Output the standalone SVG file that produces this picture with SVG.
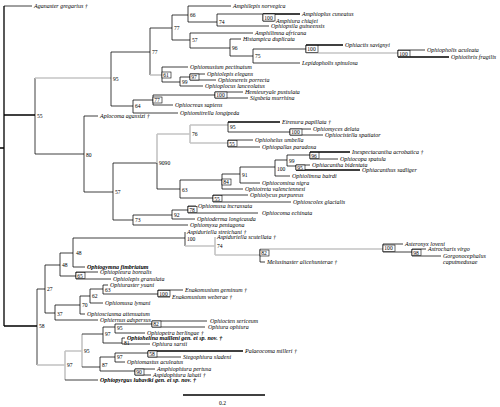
<svg xmlns="http://www.w3.org/2000/svg" width="500" height="407" viewBox="0 0 500 407">
<style>
.k{stroke:#000;stroke-width:1.3;fill:none}
.t{stroke:#000;stroke-width:0.75;fill:none}
.g{stroke:#c4c4c4;stroke-width:1.6;fill:none}
.sp{font-family:"Liberation Serif",serif;font-style:italic;font-size:6px;fill:#000}
.bd{font-weight:bold}
.n{font-family:"Liberation Serif",serif;font-size:5.6px;fill:#000}
.bx{fill:#fff;stroke:#000;stroke-width:0.6}
</style>
<rect width="500" height="407" fill="#fff"/>
<g id="connectors">
<path class="k" d="M0,148H4 M4,6V326 M4,115H35 M4,326H37"/>
<path class="t" d="M4,6H32"/>
<path class="t" d="M35,78V154 M35,154H84"/>
<path class="g" d="M35,78H111"/>
<path class="t" d="M111,52V106 M111,52H150 M111,106H133"/>
<path class="t" d="M150,28V75 M150,28H172"/>
<path class="g" d="M150,75H162"/>
<path class="t" d="M172,15V40 M172,15H188 M172,40H190"/>
<path class="t" d="M188,6V22 M188,6H231 M188,22H217"/>
<path class="t" d="M217,14V26 M217,14H263 M217,26H269"/>
<path class="t" d="M263,14V21 M263,21H274"/><path class="k" d="M263,14H300"/>
<path class="t" d="M190,33V48 M190,33H253 M190,48H230"/>
<path class="t" d="M230,39V56 M230,39H241 M230,56H253"/>
<path class="t" d="M253,49V63 M253,49H306 M253,63H300"/>
<path class="t" d="M306,45V53"/><path class="k" d="M306,45H343"/><path class="g" d="M306,53H398"/>
<path class="t" d="M398,50V57 M398,50H425"/><path class="k" d="M398,57H449"/>
<path class="t" d="M162,67V82 M162,67H188 M162,82H180"/>
<path class="t" d="M180,77V86 M180,77H190 M180,86H203"/>
<path class="t" d="M190,74V80 M190,74H205 M190,80H216"/>
<path class="t" d="M133,100V113 M133,100H153 M133,113H178"/>
<path class="t" d="M153,95V105 M153,95H215 M153,105H173"/>
<path class="t" d="M215,92V98 M215,92H243 M215,98H248"/>
<path class="t" d="M84,116V192 M84,116H98 M84,192H113"/>
<path class="t" d="M113,163V220 M113,163H157 M113,220H133"/>
<path class="g" d="M157,134V163 M157,134H190"/><path class="t" d="M157,163V189 M157,189H180"/>
<path class="g" d="M190,125V143 M190,125H228 M190,143H228"/>
<path class="t" d="M228,122V132 M228,132H290"/><path class="k" d="M228,122H280"/>
<path class="t" d="M290,129V135 M290,129H311 M290,135H323"/>
<path class="t" d="M228,140V147 M228,140H253 M228,147H260"/>
<path class="t" d="M180,180V198 M180,180H222 M180,198H213"/>
<path class="t" d="M222,174V189 M222,174H240 M222,189H243"/>
<path class="t" d="M240,167V183 M240,167H275 M240,183H260"/>
<path class="t" d="M275,160V176 M275,160H287 M275,176H290"/>
<path class="t" d="M287,155V166 M287,155H310 M287,166H296"/>
<path class="t" d="M310,152V159 M310,159H338"/><path class="k" d="M310,152H350"/>
<path class="t" d="M296,165V170 M296,165H310"/><path class="k" d="M296,170H360"/>
<path class="t" d="M213,195V202 M213,195H248 M213,202H291"/>
<path class="t" d="M133,215V225 M133,215H172 M133,225H188"/>
<path class="t" d="M172,210V219 M172,210H188 M172,219H195"/>
<path class="t" d="M188,206V213 M188,206H196 M188,213H258"/>
<path class="t" d="M37,289V365 M37,289H45"/><path class="g" d="M37,365H65"/>
<path class="t" d="M45,265V313 M45,265H60 M45,313H55"/>
<path class="t" d="M60,253V276 M60,253H73 M60,276H76"/>
<path class="t" d="M73,238V267 M73,238H185 M73,267H85"/>
<path class="t" d="M185,232V246"/><path class="g" d="M185,246H215 M215,237V255 M215,255H260 M260,249H383"/>
<path class="t" d="M260,249V262 M260,262H265"/>
<path class="t" d="M383,244V252 M383,244H403 M383,252H412"/>
<path class="t" d="M412,249V256 M412,249H426 M412,256H441"/>
<path class="t" d="M76,272V279 M76,272H98 M76,279H111"/>
<path class="t" d="M55,305V320 M55,305H80 M55,320H98"/>
<path class="t" d="M80,296V314 M80,296H90 M80,314H85"/>
<path class="t" d="M90,289V303 M90,289H103 M90,303H103"/>
<path class="t" d="M103,285V294 M103,285H108 M103,294H158"/>
<path class="t" d="M158,290V297 M158,290H183 M158,297H170"/>
<path class="g" d="M65,351V380 M65,351H82 M82,334V367"/><path class="t" d="M65,380H98"/>
<path class="t" d="M82,334H103 M82,367H100"/>
<path class="t" d="M103,327V343 M103,327H115 M103,343H122"/>
<path class="t" d="M115,324V333 M115,324H152 M115,333H145"/>
<path class="t" d="M152,321V327 M152,321H207 M152,327H205"/>
<path class="t" d="M122,338V344 M122,338H125 M122,344H150"/>
<path class="t" d="M100,357V371 M100,357H115 M100,371H135"/>
<path class="t" d="M115,353V362 M115,353H148 M115,362H125"/>
<path class="t" d="M148,351V357 M148,357H181"/><path class="k" d="M148,351H243"/>
<path class="t" d="M135,369V375 M135,369H155 M135,375H151"/>
<path class="k" d="M183,395H265"/>
</g>
<g id="support">
<text class="n" x="37" y="118">55</text>
<text class="n" x="39" y="328">58</text>
<text class="n" x="113" y="81">95</text>
<text class="n" x="152" y="54">77</text>
<text class="n" x="174" y="30">77</text>
<text class="n" x="190" y="17">66</text>
<text class="n" x="219" y="24">74</text>
<g><rect class="bx" x="263" y="14" width="12" height="7"/><text class="n" x="264.3" y="19.6">100</text></g>
<text class="n" x="192" y="42">57</text>
<text class="n" x="232" y="50">96</text>
<text class="n" x="255" y="58">75</text>
<g><rect class="bx" x="306" y="45.5" width="12" height="7"/><text class="n" x="307.3" y="51">100</text></g>
<g><rect class="bx" x="398" y="50.5" width="12" height="6"/><text class="n" x="399.3" y="55.5">100</text></g>
<g><rect class="bx" x="162" y="72" width="9" height="6"/><text class="n" x="163.3" y="77">61</text></g>
<text class="n" x="182" y="84">99</text>
<g><rect class="bx" x="190" y="74" width="9" height="6"/><text class="n" x="191.3" y="79">97</text></g>
<text class="n" x="135" y="108">64</text>
<g><rect class="bx" x="153" y="97" width="9" height="6"/><text class="n" x="154.3" y="102">77</text></g>
<g><rect class="bx" x="215" y="92" width="12" height="6"/><text class="n" x="216.3" y="97">100</text></g>
<text class="n" x="86" y="157">80</text>
<text class="n" x="115" y="194">57</text>
<text class="n" x="159" y="165">9090</text>
<text class="n" x="192" y="136">76</text>
<text class="n" x="230" y="129">95</text>
<g><rect class="bx" x="290" y="129" width="12" height="6"/><text class="n" x="291.3" y="134">100</text></g>
<g><rect class="bx" x="228" y="140.5" width="9" height="6"/><text class="n" x="229.3" y="145.5">55</text></g>
<text class="n" x="182" y="192">63</text>
<g><rect class="bx" x="222" y="179" width="9" height="6"/><text class="n" x="223.3" y="184">84</text></g>
<text class="n" x="242" y="177">91</text>
<text class="n" x="277" y="171">100</text>
<text class="n" x="289" y="163">99</text>
<g><rect class="bx" x="310" y="152.5" width="9" height="6"/><text class="n" x="311.3" y="157.5">96</text></g>
<g><rect class="bx" x="296" y="165" width="9" height="5"/><text class="n" x="297.3" y="169.5">95</text></g>
<g><rect class="bx" x="213" y="195.5" width="9" height="6"/><text class="n" x="214.3" y="200.5">55</text></g>
<text class="n" x="135" y="222">73</text>
<text class="n" x="174" y="217">92</text>
<g><rect class="bx" x="188" y="206.5" width="9" height="6"/><text class="n" x="189.3" y="211.5">78</text></g>
<text class="n" x="76" y="255">48</text>
<text class="n" x="62" y="267">48</text>
<text class="n" x="187" y="241">100</text>
<text class="n" x="217" y="248">74</text>
<g><rect class="bx" x="260" y="250" width="9" height="6"/><text class="n" x="261.3" y="255">82</text></g>
<g><rect class="bx" x="383" y="245" width="12" height="6.5"/><text class="n" x="384.3" y="250.3">100</text></g>
<g><rect class="bx" x="412" y="249.5" width="9" height="6"/><text class="n" x="413.3" y="254.5">98</text></g>
<g><rect class="bx" x="76" y="272.5" width="9" height="6"/><text class="n" x="77.3" y="277.5">65</text></g>
<text class="n" x="47" y="291">27</text>
<text class="n" x="57" y="316">37</text>
<text class="n" x="82" y="307">70</text>
<text class="n" x="92" y="298">62</text>
<text class="n" x="105" y="292">63</text>
<g><rect class="bx" x="158" y="290.5" width="12" height="6"/><text class="n" x="159.3" y="295.5">100</text></g>
<text class="n" x="67" y="367">97</text>
<text class="n" x="84" y="353">95</text>
<text class="n" x="105" y="336">97</text>
<text class="n" x="117" y="330">95</text>
<g><rect class="bx" x="152" y="321" width="9" height="6"/><text class="n" x="153.3" y="326">82</text></g>
<text class="n" x="124" y="345">81</text>
<text class="n" x="102" y="367">87</text>
<text class="n" x="117" y="359">97</text>
<g><rect class="bx" x="148" y="351" width="9" height="6"/><text class="n" x="149.3" y="356">58</text></g>
<g><rect class="bx" x="135" y="369" width="9" height="6"/><text class="n" x="136.3" y="374">90</text></g>
<text class="n" x="219" y="405">0.2</text>
</g>
<g id="taxa">
<text class="sp" x="34" y="8">Aganaster gregarius †</text>
<text class="sp" x="233" y="8">Amphilepis norvegica</text>
<text class="sp" x="302" y="16">Amphioplus cuneatus</text>
<text class="sp" x="276" y="23">Amphiura chiajei</text>
<text class="sp" x="271" y="28">Ophiopsila guineensis</text>
<text class="sp" x="255" y="35">Amphilimna africana</text>
<text class="sp" x="243" y="41">Histampica duplicata</text>
<text class="sp" x="345" y="47">Ophiactis savignyi</text>
<text class="sp" x="427" y="52">Ophiopholis aculeata</text>
<text class="sp" x="451" y="59">Ophiothrix fragilis</text>
<text class="sp" x="302" y="65">Lepidopholis spinulosa</text>
<text class="sp" x="190" y="69">Ophiomusium pectinatum</text>
<text class="sp" x="207" y="76">Ophiolepis elegans</text>
<text class="sp" x="218" y="82">Ophionereis porrecta</text>
<text class="sp" x="205" y="88">Ophioplocus lanceolatus</text>
<text class="sp" x="245" y="94">Hemieuryale pustulata</text>
<text class="sp" x="250" y="100">Sigsbeia murrhina</text>
<text class="sp" x="175" y="107">Ophiocreas sapiens</text>
<text class="sp" x="180" y="115">Ophiomitrella longipeda</text>
<text class="sp" x="100" y="118">Aplocoma agassizi †</text>
<text class="sp" x="282" y="124">Eirenura papillata †</text>
<text class="sp" x="313" y="131">Ophiomyces delata</text>
<text class="sp" x="325" y="137">Ophiocistella spatiator</text>
<text class="sp" x="255" y="142">Ophiohelus umbella</text>
<text class="sp" x="262" y="149">Ophiopallas paradoxa</text>
<text class="sp" x="352" y="154">Inexpectacantha acrobatica †</text>
<text class="sp" x="340" y="161">Ophiocopa spatula</text>
<text class="sp" x="312" y="167">Ophiacantha bidentata</text>
<text class="sp" x="362" y="172">Ophiacanthus sadliger</text>
<text class="sp" x="292" y="178">Ophiolimna bairdi</text>
<text class="sp" x="262" y="185">Ophiocomina nigra</text>
<text class="sp" x="245" y="191">Ophiotreta valenciennesi</text>
<text class="sp" x="250" y="197">Ophiolycus purpureus</text>
<text class="sp" x="293" y="204">Ophioscolex glacialis</text>
<text class="sp" x="198" y="208">Ophiomusa incrassata</text>
<text class="sp" x="262" y="215">Ophiocoma echinata</text>
<text class="sp" x="197" y="221">Ophioderma longicauda</text>
<text class="sp" x="190" y="227">Ophiomyxa pentagona</text>
<text class="sp" x="187" y="234">Aspiduriella streichani †</text>
<text class="sp" x="217" y="239">Aspiduriella scutellata †</text>
<text class="sp" x="267" y="264">Melusinaster alicehunterae †</text>
<text class="sp" x="405" y="246">Asteronyx loveni</text>
<text class="sp" x="428" y="251">Astrocharis virgo</text>
<text class="sp" x="443" y="258">Gorgonocephalus</text>
<text class="sp" x="443" y="264">caputmedusae</text>
<text class="sp bd" x="87" y="269">Ophiogymna fimbriatum</text>
<text class="sp" x="100" y="274">Ophiopleura borealis</text>
<text class="sp" x="113" y="280.5">Ophiolepis granulata</text>
<text class="sp" x="110" y="287">Ophiuraster yuani</text>
<text class="sp" x="185" y="292">Enakomusium geminum †</text>
<text class="sp" x="172" y="299">Enakomusium weberae †</text>
<text class="sp" x="105" y="305">Ophiomusa lymani</text>
<text class="sp" x="87" y="316">Ophiosciasma attenuatum</text>
<text class="sp" x="100" y="322">Ophiernus adspersus</text>
<text class="sp" x="210" y="323">Ophiocten sericeum</text>
<text class="sp" x="208" y="329">Ophiura ophiura</text>
<text class="sp" x="147" y="335">Ophiopetra berlingae †</text>
<text class="sp bd" x="127" y="340">Ophiohelina mailleni gen. et sp. nov. †</text>
<text class="sp" x="152" y="346">Ophiura sarsii</text>
<text class="sp" x="245" y="353">Palaeocoma milleri †</text>
<text class="sp" x="183" y="359">Stegophiura sladeni</text>
<text class="sp" x="127" y="364">Ophiomastus aculeatus</text>
<text class="sp" x="157" y="371">Amphiophiura pertusa</text>
<text class="sp" x="153" y="377">Aspidophiura lahati †</text>
<text class="sp bd" x="100" y="382">Ophiopyrgus lubaviki gen. et sp. nov. †</text>
</g>
</svg>
